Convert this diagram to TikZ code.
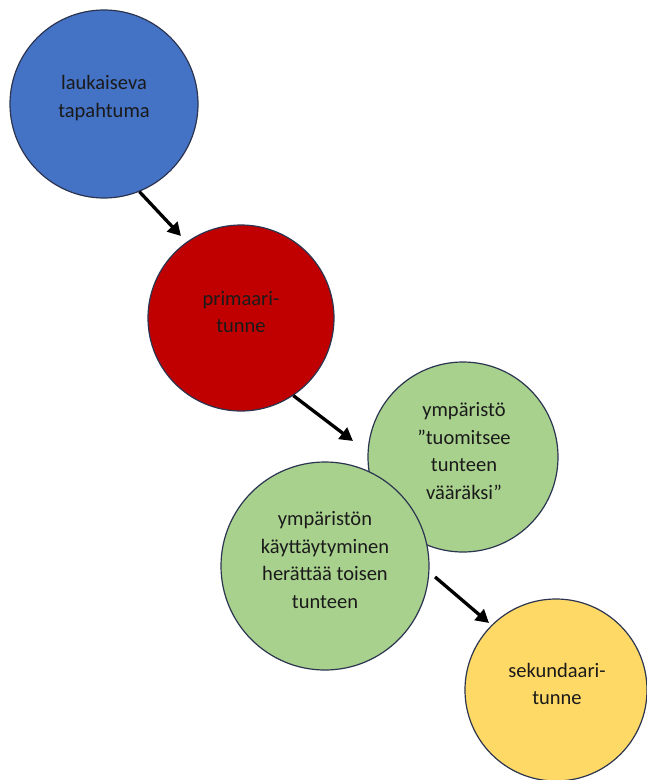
\documentclass[tikz,border=0pt]{standalone}
\usepackage{fontspec}
\setmainfont{Carlito}
\usetikzlibrary{arrows.meta}
\definecolor{cblue}{HTML}{4472C4}
\definecolor{cred}{HTML}{C00000}
\definecolor{cgreen}{HTML}{A9D18E}
\definecolor{cyellow}{HTML}{FFD966}
\definecolor{cedge}{HTML}{2B3550}
\definecolor{ctext}{HTML}{1A1A1A}
\tikzset{
  circ/.style={circle, draw=cedge, line width=1.2pt, inner sep=0pt},
  txt/.style={align=center, text=ctext, font=\fontsize{20.5}{27.5}\selectfont, inner sep=0pt},
  arr/.style={draw=black, line width=3.3pt, -{Triangle[length=13pt,width=14pt]}}
}
\begin{document}
\begin{tikzpicture}[x=1pt,y=-1pt]
\useasboundingbox (0,0) rectangle (647,780);
\fill[white] (0,0) rectangle (647,780);
% circles
\node[circ, fill=cblue, minimum size=188pt] (blue) at (104,104) {};
\node[circ, fill=cred, minimum size=186pt] (red) at (241,318) {};
\node[circ, fill=cgreen, minimum size=190pt] (gtop) at (463,457) {};
\node[circ, fill=cgreen, minimum size=208pt] (gbot) at (325,566) {};
\node[circ, fill=cyellow, minimum size=182pt] (yel) at (556,690) {};
% texts
\node[txt] (bluet) at (104,98) {laukaiseva\\tapahtuma};
\node[txt] (redt) at (241,312) {primaari-\\tunne};
\node[txt] (gtopt) at (464,451) {ympäristö\\”tuomitsee\\tunteen\\vääräksi”};
\node[txt] (gbott) at (325,560) {ympäristön\\käyttäytyminen\\herättää toisen\\tunteen};
\node[txt] (yelt) at (557,684) {sekundaari-\\tunne};
% arrows
\coordinate (e1) at (181,236);
\coordinate (e2) at (353,441);
\coordinate (e3) at (489,623);
\draw[arr] (blue.-68) -- (e1);
\draw[arr] (red.-56) -- (e2);
\draw[arr] ([xshift=6pt]gbot.-6) -- (e3);
\end{tikzpicture}
\end{document}
